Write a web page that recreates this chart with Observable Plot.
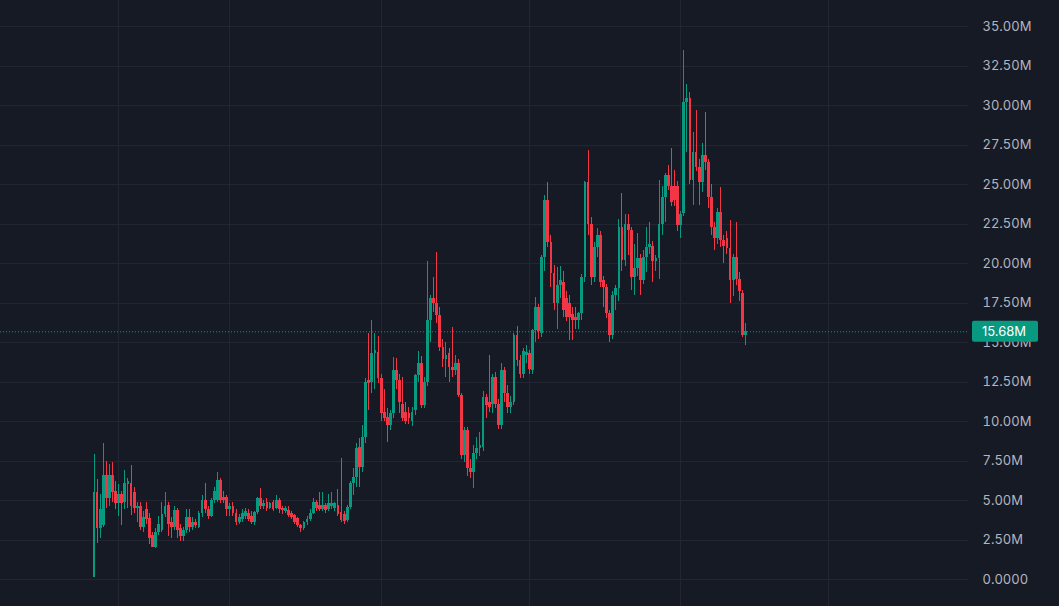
<!DOCTYPE html>
<html><head><meta charset="utf-8">
<script src="https://cdn.jsdelivr.net/npm/d3@7"></script>
<script src="https://cdn.jsdelivr.net/npm/@observablehq/plot@0.6"></script>
<style>html,body{margin:0;padding:0;background:#161a25;overflow:hidden}</style>
</head><body><div id="chart"></div>
<script>
// OHLC values in millions, one entry per candle
const open = [
0.1,5.5,3.2,3.4,6.6,5.1,6.6,5.6,4.8,5.4,
4.9,6.0,6.1,5.5,4.5,4.6,3.3,4.4,3.85,2.8,
2.0,3.0,3.1,4.1,4.7,3.6,3.3,4.35,3.2,2.7,
3.1,3.9,3.3,3.6,3.3,4.15,5.0,4.4,4.0,5.0,
5.0,6.25,5.2,5.2,4.4,4.6,4.2,3.6,3.8,4.0,
4.2,4.0,3.6,4.25,5.1,4.6,4.9,4.5,4.9,4.5,
5.0,4.5,4.3,4.35,4.2,4.05,3.85,3.4,3.2,3.6,
3.8,4.2,4.9,4.7,4.4,4.7,4.4,4.6,4.5,4.7,
4.25,4.1,3.75,4.55,6.05,6.45,8.35,7.1,9.0,12.6,
12.5,14.3,14.35,12.7,10.6,10.25,9.75,10.5,13.2,12.6,
11.1,10.6,10.5,10.0,10.7,12.9,13.7,11.0,12.5,16.4,
17.8,17.5,16.7,14.7,13.9,14.3,13.4,13.2,13.7,11.65,
7.85,9.4,7.0,6.8,8.0,8.3,8.35,11.5,11.2,11.1,
12.8,11.1,9.75,13.2,11.8,10.9,11.2,15.45,13.85,13.0,
14.2,14.3,13.2,15.75,17.2,15.6,20.4,24.0,21.3,19.35,
17.45,18.6,18.8,17.8,17.5,16.8,16.6,16.4,16.85,19.1,
25.1,22.5,19.1,21.0,21.8,18.9,18.5,16.85,15.45,17.95,
18.4,22.3,20.2,22.5,22.1,19.1,19.7,20.3,18.9,20.4,
21.0,21.1,20.1,20.3,22.5,24.2,25.6,24.9,24.9,24.9,
22.4,23.15,30.2,30.45,25.25,27.0,26.1,25.1,26.85,26.4,
24.2,22.3,21.6,23.2,21.45,21.6,20.95,18.9,20.4,19.0,
18.1,15.45];
const high = [
7.9,6.3,5.4,8.6,7.5,7.3,7.4,6.2,6.0,5.6,
6.9,6.4,7.2,5.8,4.9,4.9,4.3,4.9,4.2,3.0,
3.2,4.0,4.9,5.5,4.9,3.9,4.6,4.5,3.5,3.3,
4.4,4.4,3.9,3.8,4.3,5.3,6.1,4.6,5.1,5.8,
6.8,6.4,5.6,5.3,4.8,4.9,4.4,4.1,4.4,4.5,
4.4,4.3,4.3,5.2,5.75,5.0,5.1,4.9,5.0,5.3,
5.1,4.6,4.6,4.6,4.3,4.1,3.9,3.5,3.7,4.0,
4.4,5.1,5.0,5.5,5.5,4.8,5.4,5.5,4.9,5.7,
7.65,4.3,4.7,6.2,7.0,8.6,8.9,9.75,12.7,15.6,
16.4,15.6,15.4,13.0,12.0,10.8,10.7,14.05,14.0,13.0,
12.8,11.2,10.9,10.9,13.0,14.4,14.1,12.8,20.1,18.0,
19.1,20.7,17.2,15.2,15.0,14.6,15.95,14.2,13.9,11.8,
9.6,9.6,7.6,8.5,9.0,9.3,11.9,11.7,14.2,13.0,
13.1,11.4,13.7,13.4,12.3,11.6,15.6,16.0,14.2,14.6,
14.8,14.5,15.8,17.85,17.4,20.5,24.3,25.1,21.8,19.9,
19.75,19.8,19.5,18.2,18.0,17.2,17.2,16.9,19.3,25.2,
27.15,22.9,21.3,22.2,22.0,19.2,18.7,17.0,18.2,18.6,
22.8,24.4,23.1,23.1,22.3,21.2,21.9,20.6,20.8,22.3,
22.6,21.4,20.5,25.25,24.9,25.7,26.2,27.3,25.9,25.2,
23.3,33.5,31.3,30.8,28.3,29.7,26.6,27.6,29.55,26.6,
25.0,22.6,23.5,24.8,21.8,22.0,22.7,20.6,22.6,19.4,
18.3,16.2];
const low = [
0.1,2.3,2.6,3.3,4.5,4.6,4.9,4.4,4.0,3.4,
4.4,4.5,4.05,4.2,3.6,3.1,3.0,3.5,2.2,2.0,
1.95,2.8,3.0,3.9,2.7,2.6,3.1,2.6,2.4,2.4,
2.9,3.0,3.1,3.2,3.2,3.9,4.2,3.8,3.9,4.8,
4.9,4.8,4.8,4.0,4.0,4.0,3.4,3.5,3.6,3.8,
3.7,3.5,3.4,4.1,4.4,4.4,4.3,4.4,4.3,4.4,
4.2,4.1,4.2,3.9,3.8,3.5,3.3,3.0,3.1,3.4,
3.7,4.1,4.3,4.3,4.3,4.2,4.3,4.4,4.3,4.0,
3.6,3.5,3.6,4.4,5.3,5.8,5.8,6.8,8.6,10.7,
11.8,12.0,12.4,10.0,10.0,8.7,9.4,10.2,12.0,10.5,
10.0,9.8,9.8,9.7,10.4,12.5,10.8,10.8,12.2,15.0,
16.9,16.2,14.4,13.4,12.8,12.5,12.8,12.9,11.5,7.6,
7.4,6.5,6.4,5.75,7.6,7.8,8.1,10.2,10.6,10.5,
10.8,9.5,9.5,11.2,10.5,10.5,11.0,13.5,12.7,12.7,
13.7,13.0,13.0,15.0,15.2,15.3,19.5,21.0,18.5,17.0,
15.8,17.8,16.6,16.3,15.1,15.1,15.8,15.8,16.4,18.8,
21.8,18.6,18.8,20.4,18.5,17.2,16.5,15.0,15.2,17.0,
17.6,19.5,19.8,20.5,18.3,18.0,19.2,18.0,18.7,19.4,
20.6,18.8,19.5,19.0,21.8,22.6,24.6,23.6,23.6,22.0,
21.6,23.0,27.0,25.0,23.7,25.8,23.7,24.5,25.9,23.5,
21.8,20.8,21.2,21.0,20.0,20.6,17.5,17.9,18.6,17.6,
15.3,14.8];
const close = [
5.5,3.2,4.4,6.6,5.1,6.6,5.5,4.8,5.4,4.8,
6.1,6.2,4.6,4.5,4.6,3.3,3.9,3.8,2.6,2.0,
3.0,3.5,4.1,4.6,3.5,3.3,4.35,3.1,2.7,3.1,
3.9,3.3,3.6,3.4,4.15,5.0,4.4,4.0,5.0,5.6,
6.25,5.0,5.0,4.4,4.6,4.2,3.6,3.9,4.2,4.3,
3.8,3.6,4.25,5.1,4.6,4.8,4.5,4.8,4.4,5.0,
4.4,4.35,4.5,4.05,3.9,3.6,3.4,3.2,3.6,3.8,
4.2,4.9,4.5,4.4,4.7,4.35,4.8,4.8,4.8,4.1,
3.75,3.7,4.55,6.05,6.45,8.3,7.1,9.0,12.5,12.4,
14.3,14.5,12.7,10.5,10.2,9.75,10.5,13.2,12.6,11.2,
10.2,10.0,10.2,10.6,12.9,13.7,11.0,12.5,16.4,17.8,
17.5,16.7,14.7,13.9,14.2,13.4,13.2,13.7,11.65,7.85,
9.4,7.0,6.8,8.0,8.3,8.5,11.5,11.0,10.9,12.8,
11.1,9.75,13.2,11.8,10.9,11.2,15.45,13.85,12.95,14.4,
14.35,13.3,15.75,17.2,15.7,20.4,24.0,21.3,19.35,17.45,
18.6,18.9,17.0,16.6,16.6,16.4,16.4,16.85,19.1,25.1,
22.5,19.1,21.0,21.8,18.8,18.5,16.85,15.45,17.95,18.4,
22.3,20.2,22.5,22.1,19.1,19.7,20.3,18.9,20.4,21.0,
21.2,20.1,20.3,22.5,24.2,25.6,24.9,23.85,24.0,22.4,
23.1,30.2,30.45,25.25,27.0,26.1,25.1,26.85,26.4,24.2,
22.3,21.6,23.2,21.45,21.1,20.95,18.9,20.4,19.0,18.2,
15.45,15.68];

// price-scale ticks (millions), time grid positions (candle index), last price
const yTicks = [0,2.5,5,7.5,10,12.5,15,17.5,20,22.5,25,27.5,30,32.5,35];
const timeGrid = [8,44,93,141,190,238];
const lastPrice = 15.68;

const candles = open.map((o,i)=>({i, open:o, high:high[i], low:low[i], close:close[i]}));
const N = candles.length;

const W = 1059, H = 606, paneRight = 968;
const firstX = 93.5, lastX = 745;
const pxPer = (lastX - firstX) / (N - 1);
const xDomain = [-firstX / pxPer, (paneRight - firstX) / pxPer];
const k = (579 - 26) / 35;
const yDomain = [-(H - 579) / k, 35 + 26 / k];

const up = "#089981", down = "#f23645", gridC = "#232632", textC = "#b2b5be";
const col = d => d.close >= d.open ? up : down;
const fmt = v => v === 0 ? "0.0000" : v.toFixed(2) + "M";

const plot = Plot.plot({
  width: W, height: H,
  marginLeft: 0, marginRight: W - paneRight, marginTop: 0, marginBottom: 0,
  style: {background: "#161a25", fontFamily: "Inter, 'Noto Sans', sans-serif", fontSize: "13px", color: textC},
  x: {type: "linear", domain: xDomain, axis: null},
  y: {domain: yDomain, axis: null},
  marks: [
    Plot.ruleY(yTicks, {stroke: gridC, strokeWidth: 1, shapeRendering: "crispEdges"}),
    Plot.ruleX(timeGrid, {stroke: gridC, strokeWidth: 1, shapeRendering: "crispEdges"}),
    Plot.axisY(yTicks, {anchor: "right", tickSize: 0, tickPadding: 14, tickFormat: fmt, color: textC, fill: textC, fontSize: 13}),
    Plot.ruleY([lastPrice], {stroke: up, strokeDasharray: "1,2", strokeWidth: 1}),
    Plot.ruleX(candles, {x: "i", y1: "low", y2: "high", stroke: col, strokeWidth: 1, shapeRendering: "crispEdges"}),
    Plot.ruleX(candles, {x: "i", y1: "open", y2: "close", stroke: col, strokeWidth: 2.8, shapeRendering: "crispEdges"})
  ]
});
document.getElementById("chart").appendChild(plot);

// last-price label on the price scale
const svg = d3.select(plot);
const yy = plot.scale("y").apply(lastPrice);
const g = svg.append("g").attr("text-anchor", "start");
g.append("rect").attr("x", paneRight + 4).attr("y", yy - 10.5).attr("width", 66).attr("height", 21).attr("rx", 2).attr("fill", up);
g.append("text").attr("x", paneRight + 14).attr("y", yy).attr("dy", "0.35em")
  .attr("text-anchor", "start")
  .attr("fill", "#ffffff").attr("font-size", 13).attr("font-family", "Inter, 'Noto Sans', sans-serif")
  .text(fmt(lastPrice));
</script>
</body></html>
